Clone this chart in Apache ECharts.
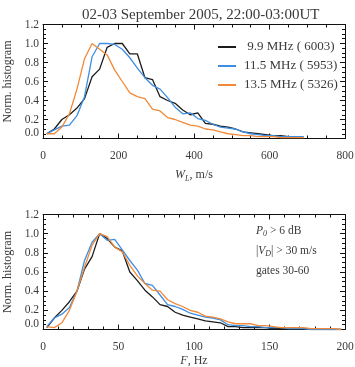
<!DOCTYPE html>
<html>
<head>
<meta charset="utf-8">
<script src="https://cdn.jsdelivr.net/npm/echarts@6/dist/echarts.min.js"></script>
<style>
  html, body { margin: 0; padding: 0; background: #fff; }
  #chart { width: 355px; height: 367px; }
</style>
</head>
<body>
<div id="chart"></div>
<script>
// spectral width histograms (top), bin centres in m/s
var wBins = [10, 30, 50, 70, 90, 110, 130, 150, 170, 190, 210, 230, 250, 270, 290, 310, 330, 350,
    370, 390, 410, 430, 450, 470, 490, 510, 530, 550, 570, 590, 610, 630, 650, 670, 690];
var wBlack = [0.05, 0.10, 0.20, 0.25, 0.32, 0.42, 0.65, 0.73, 0.96, 1.00, 1.00, 0.89, 0.89, 0.64, 0.62, 0.44, 0.40, 0.37,
    0.30, 0.25, 0.27, 0.16, 0.15, 0.13, 0.12, 0.10, 0.07, 0.06, 0.05, 0.04, 0.03, 0.03, 0.02, 0.02, 0.02];
var wBlue = [0.05, 0.09, 0.13, 0.14, 0.24, 0.44, 0.86, 1.00, 1.00, 0.99, 0.94, 0.85, 0.74, 0.64, 0.56, 0.52, 0.43, 0.33,
    0.26, 0.27, 0.21, 0.19, 0.15, 0.12, 0.11, 0.10, 0.07, 0.05, 0.04, 0.03, 0.03, 0.02, 0.02, 0.02, 0.02];
var wOrange = [0.05, 0.05, 0.12, 0.26, 0.52, 0.84, 1.00, 0.94, 0.88, 0.72, 0.60, 0.48, 0.44, 0.42, 0.31, 0.29, 0.22, 0.20,
    0.17, 0.14, 0.13, 0.10, 0.09, 0.07, 0.05, 0.04, 0.03, 0.03, 0.02, 0.02, 0.02, 0.01, 0.01, 0.01, 0.01];

// frequency histograms (bottom), bin centres in Hz
var fBins = [2.5, 7.5, 12.5, 17.5, 22.5, 27.5, 32.5, 37.5, 42.5, 47.5, 52.5, 57.5, 62.5, 67.5, 72.5, 77.5, 82.5, 87.5, 92.5, 97.5,
    102.5, 107.5, 112.5, 117.5, 122.5, 127.5, 132.5, 137.5, 142.5, 147.5, 152.5, 157.5, 162.5, 167.5, 172.5, 177.5, 182.5, 187.5, 192.5, 197.5];
var fBlack = [0.02, 0.12, 0.20, 0.29, 0.40, 0.63, 0.76, 1.00, 0.95, 0.86, 0.82, 0.60, 0.51, 0.41, 0.34, 0.26, 0.24, 0.18, 0.15, 0.13,
    0.11, 0.09, 0.08, 0.07, 0.03, 0.03, 0.02, 0.02, 0.02, 0.02, 0.01, 0.01, 0.01, 0.01, 0.01, 0.00, 0.00, 0.00, 0.00, 0.00];
var fBlue = [0.03, 0.12, 0.16, 0.23, 0.40, 0.72, 0.91, 1.00, 0.93, 0.94, 0.83, 0.72, 0.62, 0.48, 0.46, 0.36, 0.26, 0.24, 0.21, 0.17,
    0.15, 0.13, 0.12, 0.10, 0.05, 0.04, 0.04, 0.03, 0.03, 0.02, 0.02, 0.02, 0.01, 0.01, 0.01, 0.00, 0.00, 0.00, 0.00, 0.00];
var fOrange = [0.03, 0.02, 0.07, 0.20, 0.40, 0.65, 0.88, 1.00, 0.97, 0.86, 0.81, 0.67, 0.56, 0.48, 0.41, 0.40, 0.31, 0.27, 0.24, 0.20,
    0.18, 0.14, 0.13, 0.11, 0.08, 0.06, 0.06, 0.06, 0.04, 0.04, 0.03, 0.02, 0.02, 0.02, 0.02, 0.01, 0.01, 0.01, 0.01, 0.00];

var names = [' 9.9 MHz ( 6003)', '11.5 MHz ( 5953)', '13.5 MHz ( 5326)'];

var serif = 'Liberation Serif';
var txt = '#3a3a3a';
var colors = ['#1c1c1c', '#3d8ee4', '#f08a3a'];

function pairs(xs, ys) {
    return xs.map(function (x, i) { return [x, ys[i]]; });
}

function xAx(grid, max, step, minor, pos, labels, name, gap) {
    return {
        type: 'value', gridIndex: grid, position: pos, min: 0, max: max, interval: step,
        axisLine: { show: true, onZero: false, lineStyle: { color: '#111', width: 1 } },
        axisTick: { show: true, inside: true, length: 5, lineStyle: { color: '#111' } },
        minorTick: { show: true, splitNumber: minor, length: 3, lineStyle: { color: '#111' } },
        splitLine: { show: false },
        axisLabel: { show: labels, color: txt, fontFamily: serif, fontSize: 11.5, margin: 11 },
        name: name, nameLocation: 'middle', nameGap: gap,
        nameTextStyle: {
            color: txt, fontFamily: serif, fontSize: 12,
            rich: {
                i: { fontFamily: serif, fontStyle: 'italic', fontSize: 12, color: txt },
                s: { fontFamily: serif, fontStyle: 'italic', fontSize: 8, color: txt, padding: [7, 0, 0, 0] }
            }
        }
    };
}

function yAx(grid, pos, labels) {
    return {
        type: 'value', gridIndex: grid, position: pos, min: 0, max: 1.2, interval: 0.2,
        axisLine: { show: true, onZero: false, lineStyle: { color: '#111', width: 1 } },
        axisTick: { show: true, inside: true, length: 5, lineStyle: { color: '#111' } },
        minorTick: { show: true, splitNumber: 4, length: 3, lineStyle: { color: '#111' } },
        splitLine: { show: false },
        axisLabel: {
            show: labels, color: txt, fontFamily: serif, fontSize: 11.5, margin: 4,
            verticalAlignMinLabel: 'bottom',
            formatter: function (v) { return v.toFixed(1); }
        },
        name: labels ? 'Norm. histogram' : '', nameLocation: 'middle', nameGap: 26,
        nameTextStyle: { color: txt, fontFamily: serif, fontSize: 12 }
    };
}

function line(name, xi, yi, data, c) {
    return {
        name: name, type: 'line', xAxisIndex: xi, yAxisIndex: yi, data: data,
        showSymbol: false, symbol: 'none', animation: false,
        lineStyle: { color: c, width: 1.3 }, itemStyle: { color: c }
    };
}

var chart = echarts.init(document.getElementById('chart'));
var option = {
    animation: false,
    title: {
        text: '02-03 September 2005, 22:00-03:00UT',
        left: 77, top: 3,
        textStyle: { fontFamily: serif, fontSize: 15, fontWeight: 'normal', color: txt }
    },
    grid: [
        { left: 43, top: 24.5, width: 302, height: 114, outerBoundsMode: 'none' },
        { left: 43, top: 214.5, width: 302, height: 115, outerBoundsMode: 'none' }
    ],
    legend: {
        data: names, orient: 'vertical', left: 213, top: 35,
        itemWidth: 18, itemHeight: 2, itemGap: 5, icon: 'rect',
        textStyle: { fontFamily: serif, fontSize: 13, color: txt, lineHeight: 14, padding: [0, 0, 0, 3] }
    },
    xAxis: [
        xAx(0, 800, 200, 4, 'bottom', true, '{i|W}{s|L}, m/s', 29),
        xAx(0, 800, 200, 4, 'top', false, '', 0),
        xAx(1, 200, 50, 5, 'bottom', true, '{i|F}, Hz', 25),
        xAx(1, 200, 50, 5, 'top', false, '', 0)
    ],
    yAxis: [
        yAx(0, 'left', true),
        yAx(0, 'right', false),
        yAx(1, 'left', true),
        yAx(1, 'right', false)
    ],
    graphic: [
        {
            type: 'text', left: 256, top: 225,
            style: {
                text: '{i|P}{s|0} > 6 dB', fill: txt, font: '11.5px "Liberation Serif"',
                rich: {
                    i: { fontFamily: serif, fontStyle: 'italic', fontSize: 11.5, fill: txt },
                    s: { fontFamily: serif, fontStyle: 'italic', fontSize: 8, fill: txt, padding: [6, 0, 0, 0] }
                }
            }
        },
        {
            type: 'text', left: 256, top: 245,
            style: {
                text: '|{i|V}{s|D}| > 30 m/s', fill: txt, font: '11.5px "Liberation Serif"',
                rich: {
                    i: { fontFamily: serif, fontStyle: 'italic', fontSize: 11.5, fill: txt },
                    s: { fontFamily: serif, fontStyle: 'italic', fontSize: 8, fill: txt, padding: [6, 0, 0, 0] }
                }
            }
        },
        {
            type: 'text', left: 256, top: 265,
            style: { text: 'gates 30-60', fill: txt, font: '11.5px "Liberation Serif"' }
        }
    ],
    series: [
        line(names[0], 0, 0, pairs(wBins, wBlack), colors[0]),
        line(names[1], 0, 0, pairs(wBins, wBlue), colors[1]),
        line(names[2], 0, 0, pairs(wBins, wOrange), colors[2]),
        line('F 9.9', 2, 2, pairs(fBins, fBlack), colors[0]),
        line('F 11.5', 2, 2, pairs(fBins, fBlue), colors[1]),
        line('F 13.5', 2, 2, pairs(fBins, fOrange), colors[2])
    ]
};
chart.setOption(option);
</script>
</body>
</html>
